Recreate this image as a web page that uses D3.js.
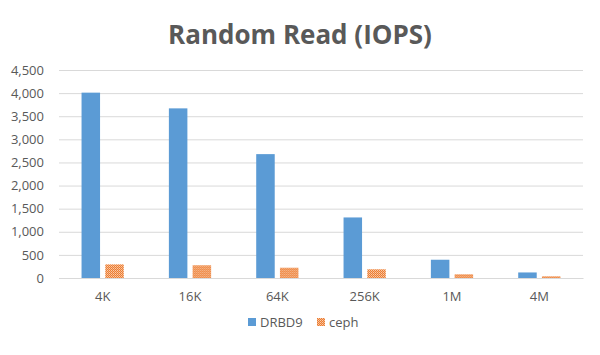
<!DOCTYPE html>
<html><head><meta charset="utf-8">
<script src="https://cdn.jsdelivr.net/npm/d3@7"></script>
<style>body{margin:0;background:#fff;}</style>
</head><body>
<svg id="c" width="600" height="355"></svg>
<script>
const categories = ["4K","16K","64K","256K","1M","4M"];
const drbd9 = [4010,3670,2680,1310,395,120];
const ceph = [295,275,222,188,80,37];
const seriesNames = ["DRBD9","ceph"];
const yTicks = [0,500,1000,1500,2000,2500,3000,3500,4000,4500];

const svg = d3.select("#c");
const m = {left:59, right:17, top:70, bottom:77};
const W = 600, H = 355;
const x = d3.scaleBand().domain(categories).range([m.left, W-m.right]).paddingInner(0).paddingOuter(0);
const y = d3.scaleLinear().domain([0,4500]).range([H-m.bottom, m.top]);

const defs = svg.append("defs");
const pat = defs.append("pattern").attr("id","dots").attr("patternUnits","userSpaceOnUse").attr("width",2).attr("height",2);
pat.append("rect").attr("width",2).attr("height",2).attr("fill","#ED7D31");
pat.append("rect").attr("width",1).attr("height",1).attr("fill","#F8CBAD");
pat.append("rect").attr("x",1).attr("y",1).attr("width",1).attr("height",1).attr("fill","#F4B183");

svg.append("rect").attr("width",W).attr("height",H).attr("fill","#fff");

svg.append("text").attr("x",300).attr("y",44).attr("text-anchor","middle")
  .attr("font-family","Open Sans").attr("font-weight","bold").attr("font-size",26).attr("fill","#595959")
  .text("Random Read (IOPS)");

const ya = svg.append("g").attr("transform",`translate(${m.left},0)`)
  .call(d3.axisLeft(y).tickValues(yTicks).tickFormat(d3.format(",")).tickSize(-(W-m.left-m.right)).tickPadding(15));
ya.select(".domain").remove();
ya.selectAll(".tick line").attr("stroke","#D9D9D9").attr("stroke-width",1);
ya.selectAll(".tick text").attr("font-family","Open Sans").attr("font-size",13).attr("fill","#595959");

const inner = d3.scaleBand().domain(seriesNames).range([0, x.bandwidth()]).paddingInner(0.22).paddingOuter(0.95);
const data = categories.map((c,i)=>({c, vals:[{s:"DRBD9",v:drbd9[i]},{s:"ceph",v:ceph[i]}]}));
const g = svg.append("g");
g.selectAll("g").data(data).join("g").attr("transform",d=>`translate(${x(d.c)},0)`)
 .selectAll("rect").data(d=>d.vals).join("rect")
 .attr("x",d=>inner(d.s)).attr("width",inner.bandwidth())
 .attr("y",d=>y(d.v)).attr("height",d=>y(0)-y(d.v))
 .attr("fill",d=>d.s==="DRBD9"?"#5B9BD5":"url(#dots)");

const xa = svg.append("g").attr("transform",`translate(0,${y(0)})`)
  .call(d3.axisBottom(x).tickSize(0).tickPadding(14));
xa.select(".domain").attr("stroke","#D9D9D9");
xa.selectAll(".tick text").attr("font-family","Open Sans").attr("font-size",13).attr("fill","#595959");

const leg = svg.append("g");
const lx = [248, 317];
seriesNames.forEach((s,i)=>{
  leg.append("rect").attr("x",lx[i]).attr("y",318).attr("width",8).attr("height",8)
    .attr("fill", i===0?"#5B9BD5":"url(#dots)");
  leg.append("text").attr("x",lx[i]+12).attr("y",327).attr("font-family","Open Sans").attr("font-size",13).attr("fill","#595959").text(s);
});
</script>
</body></html>
